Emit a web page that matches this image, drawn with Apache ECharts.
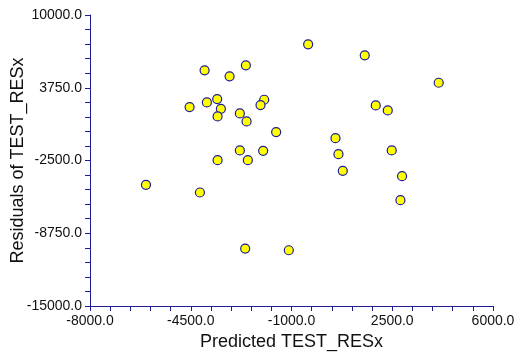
<!DOCTYPE html>
<html><head><meta charset="utf-8">
<script src="https://cdn.jsdelivr.net/npm/echarts@6/dist/echarts.min.js"></script>
<style>html,body{margin:0;padding:0;background:#fff}#c{width:518px;height:358px}</style>
</head><body><div id="c"></div>
<script>
const predicted = [-4019,-2585,-3151,-4540,-3939,-3581,-3453,-3568,-2794,-2561,-2794,-3568,-2516,-422,1545,4114,-1949,-2076,1927,2344,-1533,528,-1985,632,2482,782,2840,-6056,-4182,-2609,2784,-1093];
const residuals = [5244,5674,4728,2088,2492,2776,1942,1288,1546,858,-1636,-2470,-2470,7478,6532,4181,2719,2260,2232,1802,-62,-578,-1666,-1954,-1636,-3390,-3846,-4590,-5250,-10067,-5910,-10210];
const xName = "Predicted TEST_RESx";
const yName = "Residuals of TEST_RESx";
const axisColor = "#1c1c96";
const chart = echarts.init(document.getElementById('c'), null, {renderer:'canvas'});
const axisCommon = {
  axisLine:{show:true,onZero:false,lineStyle:{color:axisColor,width:1}},
  axisTick:{show:true,length:5,lineStyle:{color:axisColor}},
  minorTick:{show:true,splitNumber:5,length:5,lineStyle:{color:axisColor}},
  splitLine:{show:false},
  axisLabel:{color:'#111',fontFamily:'Liberation Sans, Arial',fontSize:14,formatter:v=>v.toFixed(1)},
  nameTextStyle:{color:'#111',fontFamily:'Liberation Sans, Arial',fontSize:18},
  nameLocation:'middle',
  nameMoveOverlap:false
};
chart.setOption({
  animation:false,
  grid:{left:90,right:25,top:15,bottom:52,containLabel:false,outerBoundsMode:'none'},
  xAxis:Object.assign({},axisCommon,{type:'value',min:-8000,max:6000,interval:3500,name:xName,nameGap:27,
    axisLabel:Object.assign({},axisCommon.axisLabel,{margin:8})}),
  yAxis:Object.assign({},axisCommon,{type:'value',min:-15000,max:10000,interval:6250,name:yName,nameGap:63,
    axisLabel:Object.assign({},axisCommon.axisLabel,{margin:8})}),
  series:[{type:'scatter',symbol:'circle',symbolSize:9,
    itemStyle:{color:'#ffff00',borderColor:axisColor,borderWidth:1.2,opacity:1},
    data:predicted.map((x,i)=>[x,residuals[i]])}]
});
</script></body></html>
